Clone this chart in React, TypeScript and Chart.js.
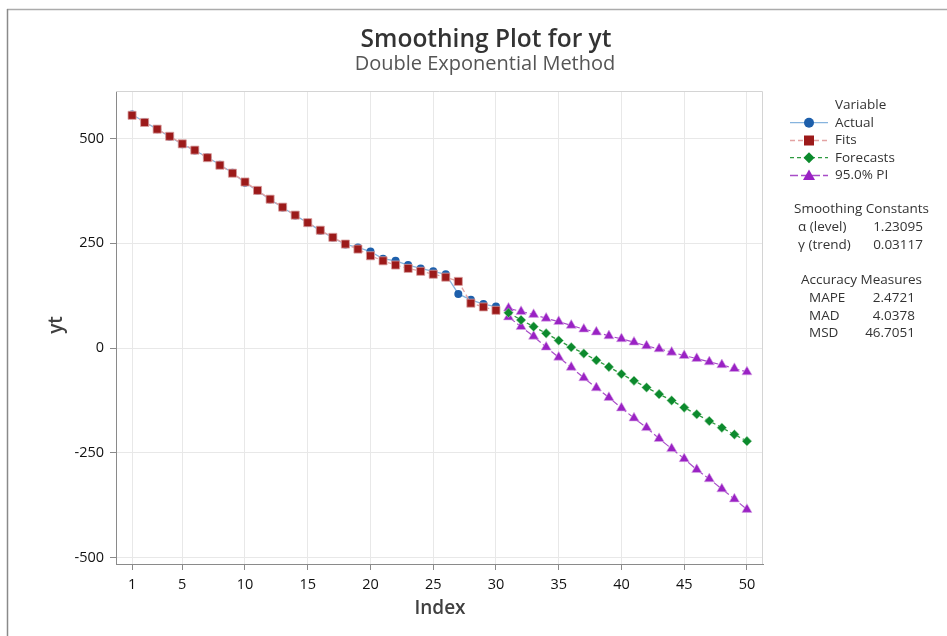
import React, { useEffect, useRef } from "react";
import { Chart, registerables } from "chart.js";

Chart.register(...registerables);

// ---------- data ----------
const actualStart = 1;
const actual = [557, 539, 522, 504, 486, 471, 455, 437, 418, 394, 375, 354, 335, 316, 299, 280, 263, 247, 240, 230, 213, 208, 198, 190, 183, 176, 129, 115, 105, 99];
const fits = [555, 538, 522, 505, 487, 472, 454, 436, 417, 396, 376, 355, 336, 317, 299, 281, 264, 248, 236, 220, 208, 198, 190, 183, 176, 169, 159, 107, 98, 90];
const forecastStart = 31;
const forecasts = [84, 67, 51, 35, 18, 2, -13, -29, -45, -62, -78, -94, -110, -125, -142, -158, -174, -190, -206, -222];
const upperPI = [95, 87, 80, 71, 63, 54, 45, 38, 29, 22, 14, 5, -2, -10, -18, -25, -33, -40, -49, -57];
const lowerPI = [74, 51, 28, 2, -22, -46, -71, -95, -118, -143, -167, -190, -216, -240, -264, -290, -312, -336, -360, -385];

const xTicks = [1, 5, 10, 15, 20, 25, 30, 35, 40, 45, 50];
const yTicks = [-500, -250, 0, 250, 500];

const titleText = "Smoothing Plot for yt";
const subtitleText = "Double Exponential Method";
const xTitle = "Index";
const yTitle = "yt";

const legendTitle = "Variable";
const legendLabels = ["Actual", "Fits", "Forecasts", "95.0% PI"];
const constantsTitle = "Smoothing Constants";
const constantNames = ["α (level)", "γ (trend)"];
const constantValues = ["1.23095", "0.03117"];
const accuracyTitle = "Accuracy Measures";
const accuracyNames = ["MAPE", "MAD", "MSD"];
const accuracyValues = ["2.4721", "4.0378", "46.7051"];

const FONT = '"Open Sans", "Noto Sans", sans-serif';

const BLUE_LINE = "#86b4de";
const BLUE_PT = "#1d5fab";
const RED_LINE = "#e3a3a3";
const RED_PT = "#9c1a1a";
const GREEN_LINE = "#2e9a40";
const GREEN_PT = "#0c8a2d";
const PURPLE_LINE = "#a84cc8";
const PURPLE_PT = "#9a22c4";

const toPts = (arr: number[], start: number) => arr.map((y, i) => ({ x: start + i, y }));

const decorPlugin = {
  id: "decor",
  beforeDraw(chart: any) {
    const ctx = chart.ctx;
    ctx.save();
    ctx.fillStyle = "#ffffff";
    ctx.fillRect(0, 0, chart.width, chart.height);
    ctx.strokeStyle = "#ababab";
    ctx.lineWidth = 1.5;
    ctx.beginPath();
    ctx.moveTo(7, 9.5);
    ctx.lineTo(chart.width, 9.5);
    ctx.stroke();
    ctx.strokeStyle = "#8a8a8a";
    ctx.beginPath();
    ctx.moveTo(7.5, 9);
    ctx.lineTo(7.5, chart.height);
    ctx.stroke();
    ctx.restore();
  },
  afterDraw(chart: any) {
    const ctx = chart.ctx;
    const a = chart.chartArea;
    ctx.save();
    ctx.strokeStyle = "#d4d4d4";
    ctx.lineWidth = 1;
    ctx.beginPath();
    ctx.moveTo(a.left, a.top + 0.5);
    ctx.lineTo(a.right - 0.5, a.top + 0.5);
    ctx.lineTo(a.right - 0.5, a.bottom);
    ctx.stroke();

    // titles
    ctx.textAlign = "center";
    ctx.textBaseline = "middle";
    ctx.fillStyle = "#333333";
    ctx.font = `600 24.5px ${FONT}`;
    ctx.fillText(titleText, 486, 40);
    ctx.fillStyle = "#555555";
    ctx.font = `400 20px ${FONT}`;
    ctx.fillText(subtitleText, 485, 64);

    // axis titles
    ctx.fillStyle = "#404040";
    ctx.font = `600 19px ${FONT}`;
    ctx.fillText(xTitle, 440, 609);
    ctx.save();
    ctx.translate(57, 325);
    ctx.rotate(-Math.PI / 2);
    ctx.fillText(yTitle, 0, 0);
    ctx.restore();

    // legend
    const lx0 = 790, lx1 = 828, mx = 809, tx = 835;
    const rows = [122.7, 140.5, 157.7, 175.5];
    ctx.font = `400 13.5px ${FONT}`;
    ctx.fillStyle = "#333333";
    ctx.textAlign = "left";
    ctx.fillText(legendTitle, tx, 105.5);
    const styles = [
      { line: BLUE_LINE, dash: [], pt: BLUE_PT, shape: "circle" },
      { line: RED_LINE, dash: [5, 3], pt: RED_PT, shape: "rect" },
      { line: GREEN_LINE, dash: [4, 3], pt: GREEN_PT, shape: "diamond" },
      { line: PURPLE_LINE, dash: [8, 3], pt: PURPLE_PT, shape: "triangle" },
    ];
    styles.forEach((s, i) => {
      const y = rows[i];
      ctx.save();
      ctx.strokeStyle = s.line;
      ctx.lineWidth = 1.3;
      ctx.setLineDash(s.dash);
      ctx.beginPath();
      ctx.moveTo(lx0, y);
      ctx.lineTo(lx1, y);
      ctx.stroke();
      ctx.restore();
      ctx.fillStyle = s.pt;
      ctx.beginPath();
      if (s.shape === "circle") {
        ctx.arc(mx, y, 5, 0, Math.PI * 2);
      } else if (s.shape === "rect") {
        ctx.rect(mx - 5, y - 5, 10, 10);
      } else if (s.shape === "diamond") {
        ctx.moveTo(mx, y - 5.5);
        ctx.lineTo(mx + 5.5, y);
        ctx.lineTo(mx, y + 5.5);
        ctx.lineTo(mx - 5.5, y);
        ctx.closePath();
      } else {
        ctx.moveTo(mx, y - 6);
        ctx.lineTo(mx + 6, y + 4.5);
        ctx.lineTo(mx - 6, y + 4.5);
        ctx.closePath();
      }
      ctx.fill();
      ctx.fillStyle = "#333333";
      ctx.fillText(legendLabels[i], tx, y);
    });

    ctx.textAlign = "center";
    ctx.fillText(constantsTitle, 861.5, 209);
    const cRows = [227, 245];
    constantNames.forEach((n, i) => {
      ctx.textAlign = "left";
      ctx.fillText(n, 798, cRows[i]);
      ctx.textAlign = "right";
      ctx.fillText(constantValues[i], 923, cRows[i]);
    });

    ctx.textAlign = "center";
    ctx.fillText(accuracyTitle, 861.5, 280.5);
    const aRows = [298.3, 316, 333.5];
    accuracyNames.forEach((n, i) => {
      ctx.textAlign = "left";
      ctx.fillText(n, 809, aRows[i]);
      ctx.textAlign = "right";
      ctx.fillText(accuracyValues[i], 915, aRows[i]);
    });
    ctx.restore();
  },
};

export default function App() {
  const ref = useRef<HTMLCanvasElement | null>(null);

  useEffect(() => {
    if (!ref.current) return;
    const chart = new Chart(ref.current, {
      type: "line",
      data: {
        datasets: [
          {
            label: "Fits",
            data: toPts(fits, actualStart),
            borderColor: RED_LINE,
            borderWidth: 1.3,
            borderDash: [5, 3],
            pointStyle: "rect",
            pointRadius: 5.7,
            pointBackgroundColor: RED_PT,
            pointBorderColor: "#d9a0a0",
            pointBorderWidth: 0.8,
            order: 1,
          },
          {
            label: "Actual",
            data: toPts(actual, actualStart),
            borderColor: BLUE_LINE,
            borderWidth: 1.3,
            pointStyle: "circle",
            pointRadius: 4,
            pointBackgroundColor: BLUE_PT,
            pointBorderColor: BLUE_PT,
            pointBorderWidth: 0,
            order: 2,
          },
          {
            label: "Forecasts",
            data: toPts(forecasts, forecastStart),
            borderColor: GREEN_LINE,
            borderWidth: 1.3,
            borderDash: [4, 3],
            pointStyle: "rectRot",
            pointRadius: 4.8,
            pointBackgroundColor: GREEN_PT,
            pointBorderColor: "#9fd4a8",
            pointBorderWidth: 0.6,
            order: 3,
          },
          {
            label: "Upper PI",
            data: toPts(upperPI, forecastStart),
            borderColor: PURPLE_LINE,
            borderWidth: 1.2,
            borderDash: [8, 3],
            pointStyle: "triangle",
            pointRadius: 5.8,
            pointBackgroundColor: PURPLE_PT,
            pointBorderColor: "#d6a8e6",
            pointBorderWidth: 0.6,
            order: 4,
          },
          {
            label: "Lower PI",
            data: toPts(lowerPI, forecastStart),
            borderColor: PURPLE_LINE,
            borderWidth: 1.2,
            borderDash: [8, 3],
            pointStyle: "triangle",
            pointRadius: 5.8,
            pointBackgroundColor: PURPLE_PT,
            pointBorderColor: "#d6a8e6",
            pointBorderWidth: 0.6,
            order: 5,
          },
        ],
      },
      options: {
        responsive: false,
        animation: false,
        devicePixelRatio: 1,
        layout: { padding: { left: 0, top: 91, right: 184, bottom: 0 } },
        plugins: {
          legend: { display: false },
          title: { display: false },
          tooltip: { enabled: false },
        },
        scales: {
          x: {
            type: "linear",
            min: -0.28,
            max: 51.28,
            afterBuildTicks: (scale: any) => {
              scale.ticks = xTicks.map((v) => ({ value: v }));
            },
            afterFit: (scale: any) => {
              scale.height = 72;
            },
            grid: {
              color: "#e8e8e8",
              lineWidth: 1,
              drawTicks: true,
              tickLength: 6,
              tickColor: "#8a8a8a",
            },
            border: { color: "#8a8a8a", width: 1 },
            ticks: {
              color: "#111111",
              font: { family: FONT, size: 14.5, weight: "500" },
              padding: 6,
              maxRotation: 0,
              autoSkip: false,
              callback: (v: any) => String(v),
            },
          },
          y: {
            type: "linear",
            min: -515,
            max: 613,
            afterBuildTicks: (scale: any) => {
              scale.ticks = yTicks.map((v) => ({ value: v }));
            },
            afterFit: (scale: any) => {
              scale.width = 116;
            },
            grid: {
              color: "#e8e8e8",
              lineWidth: 1,
              drawTicks: true,
              tickLength: 6,
              tickColor: "#8a8a8a",
            },
            border: { color: "#8a8a8a", width: 1 },
            ticks: {
              color: "#111111",
              font: { family: FONT, size: 14.5, weight: "500" },
              padding: 6,
              autoSkip: false,
              callback: (v: any) => String(v),
            },
          },
        },
      },
      plugins: [decorPlugin],
    });
    return () => chart.destroy();
  }, []);

  return (
    <div style={{ position: "absolute", left: 0, top: 0, width: 947, height: 636, background: "#fff" }}>
      <canvas ref={ref} width={947} height={636} style={{ display: "block" }} />
    </div>
  );
}
